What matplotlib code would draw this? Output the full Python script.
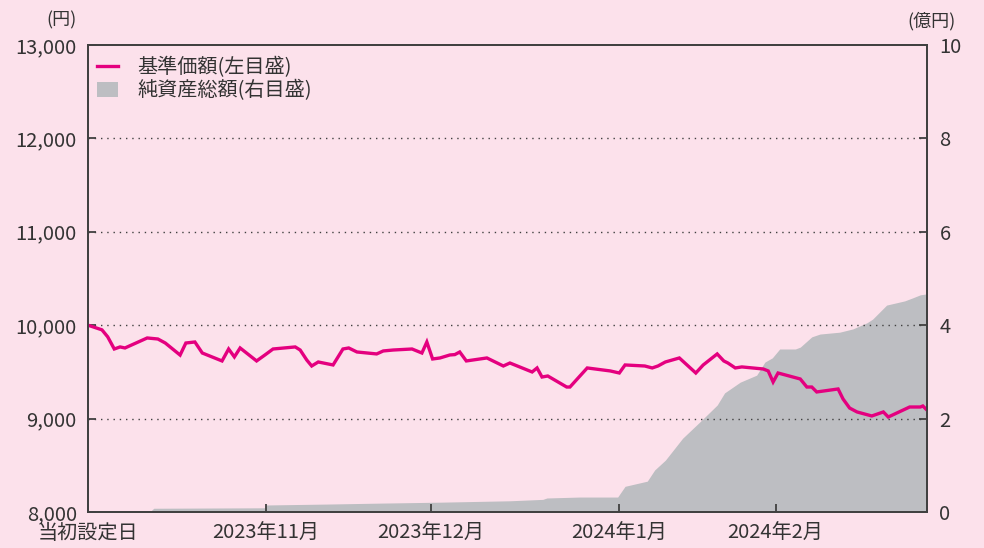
import matplotlib.pyplot as plt
from matplotlib.lines import Line2D
from matplotlib.patches import Patch

plt.rcParams['font.family'] = ['Noto Sans CJK JP', 'DejaVu Sans']

# x = business-day position (0 = 当初設定日)
nav_x = [0.0, 1.7, 2.4, 3.2, 3.9, 4.5, 7.2, 8.5, 9.4, 11.2, 11.9, 13.0, 13.9,
         16.3, 17.1, 17.8, 18.5, 20.5, 21.5, 22.5, 25.2, 25.8, 26.6, 27.2,
         28.0, 29.8, 31.0, 31.7, 32.7, 35.1, 35.9, 37.1, 39.4, 40.6, 41.2,
         41.9, 42.8, 44.0, 44.6, 45.2, 46.0, 48.5, 50.5, 51.3, 54.0, 54.6,
         55.2, 55.9, 58.2, 58.6, 60.7, 63.5, 64.6, 65.3, 67.7, 68.6, 69.3,
         70.2, 71.9, 73.9, 74.8, 76.5, 77.3, 77.8, 78.7, 79.5, 82.1, 82.7,
         83.3, 83.9, 86.6, 87.4, 88.0, 88.6, 91.2, 91.8, 92.6, 93.5, 95.3,
         96.7, 97.3, 99.9, 101.2, 101.5, 102.0]
nav = [10000, 9950, 9875, 9745, 9767, 9756, 9863, 9852, 9809, 9680, 9809,
       9820, 9702, 9617, 9745, 9660, 9756, 9617, 9680, 9745, 9767, 9734,
       9627, 9563, 9606, 9574, 9745, 9756, 9713, 9692, 9724, 9734, 9745,
       9702, 9820, 9638, 9649, 9681, 9685, 9713, 9617, 9649, 9563, 9595,
       9499, 9542, 9445, 9456, 9338, 9338, 9542, 9510, 9488, 9574, 9563,
       9542, 9563, 9606, 9649, 9488, 9574, 9692, 9617, 9595, 9542, 9553,
       9531, 9510, 9392, 9488, 9424, 9338, 9338, 9285, 9317, 9210, 9113,
       9071, 9028, 9071, 9017, 9124, 9124, 9135, 9092]

# 純資産総額（億円）
aum_x = [0.0, 7.5, 8.0, 21.5, 21.6, 29.1, 35.5, 42.8, 51.3, 55.3, 55.8,
         59.8, 64.4, 65.3, 68.0, 68.9, 70.2, 72.3, 74.4, 76.5, 77.4, 79.3,
         81.3, 82.3, 83.2, 84.1, 86.0, 86.6, 88.0, 89.0, 91.4, 93.0, 94.7,
         95.4, 97.1, 99.3, 100.2, 101.2, 102.0]
aum = [0.0, 0.0, 0.08, 0.09, 0.15, 0.17, 0.19, 0.21, 0.24, 0.27, 0.30,
       0.32, 0.32, 0.55, 0.66, 0.90, 1.11, 1.58, 1.93, 2.29, 2.55, 2.78,
       2.93, 3.21, 3.30, 3.49, 3.49, 3.53, 3.75, 3.81, 3.85, 3.92, 4.05,
       4.13, 4.43, 4.52, 4.58, 4.65, 4.67]

tick_pos = [0, 21.6, 41.7, 64.6, 83.6]
tick_labels = ['当初設定日', '2023年11月', '2023年12月', '2024年1月', '2024年2月']

pink = '#FCE1EB'
magenta = '#E4007F'
grey = '#BDBEC2'
dark = '#404040'

fig = plt.figure(figsize=(9.84, 5.48), dpi=100, facecolor=pink)
ax = fig.add_axes([0.0894, 0.0657, 0.8526, 0.8523])
ax2 = ax.twinx()

ax2.fill_between(aum_x, aum, 0, color=grey, lw=0)
ax2.set_ylim(0, 10)
ax2.set_yticks([0, 2, 4, 6, 8, 10])

ax.set_zorder(ax2.get_zorder() + 1)
ax.patch.set_visible(False)
ax2.patch.set_facecolor('white')

ax.plot(nav_x, nav, color=magenta, lw=2.4, solid_joinstyle='miter')
ax.set_ylim(8000, 13000)
ax.set_yticks(range(8000, 13001, 1000))
ax.set_yticklabels([f'{v:,}' for v in range(8000, 13001, 1000)])
ax.set_xlim(0, 102)
ax.set_xticks(tick_pos)
ax.set_xticklabels(tick_labels)

for v in range(9000, 13000, 1000):
    ax.axhline(v, color=dark, lw=1.0, ls=(0, (1, 3.5)), zorder=0.5)

for a in (ax, ax2):
    for s in a.spines.values():
        s.set_color(dark)
        s.set_linewidth(1.3)
ax.tick_params(axis='both', direction='in', length=6, width=1.3, color=dark,
               labelsize=14.5, labelcolor='#333333')
ax.tick_params(axis='x', pad=8)
ax.tick_params(axis='y', pad=8)
ax2.tick_params(axis='y', direction='in', length=6, width=1.3, color=dark,
                labelsize=14.5, labelcolor='#333333', pad=9)

fig.text(0.062, 0.962, '(円)', ha='center', va='center', fontsize=13, color='#333333')
fig.text(0.947, 0.962, '(億円)', ha='center', va='center', fontsize=13, color='#333333')

handles = [Line2D([], [], color=magenta, lw=2.4),
           Patch(facecolor=grey, edgecolor='none')]
ax.legend(handles, ['基準価額(左目盛)', '純資産総額(右目盛)'], loc='upper left',
          frameon=False, fontsize=14.5, handlelength=1.05, handleheight=0.75,
          handletextpad=0.95, labelspacing=0.12, borderaxespad=0.0,
          borderpad=0.0, bbox_to_anchor=(0.011, 0.975), labelcolor='#333333')

fig.savefig('out.png', dpi=100, facecolor=pink)
